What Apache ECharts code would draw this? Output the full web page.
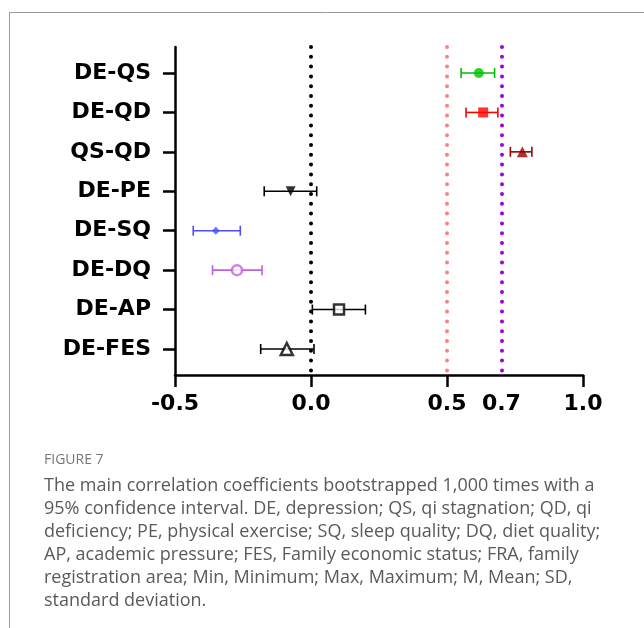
<!DOCTYPE html>
<html>
<head>
    <meta charset="UTF-8">
    <title>ECharts</title>
    <script src="https://cdn.jsdelivr.net/npm/echarts@6/dist/echarts.min.js"></script>
    <style>
        html, body { margin: 0; padding: 0; background: #fff; }
        #main { width: 644px; height: 628px; }
    </style>
</head>
<body>
    <div id="main"></div>
    <script type="text/javascript">
        // rows, top to bottom
        var categories = ['DE-QS', 'DE-QD', 'QS-QD', 'DE-PE', 'DE-SQ', 'DE-DQ', 'DE-AP', 'DE-FES'];
        // bootstrapped coefficient and 95% CI
        var estimate = [0.617, 0.633, 0.777, -0.075, -0.350, -0.272, 0.103, -0.089];
        var lower    = [0.552, 0.570, 0.733, -0.172, -0.433, -0.362, 0.005, -0.185];
        var upper    = [0.675, 0.687, 0.812, 0.021, -0.260, -0.180, 0.200, 0.011];
        // dotted reference lines
        var refLines = [0, 0.5, 0.7];
        var xTicks = [-0.5, 0, 0.5, 1.0];
        var xLabels = [-0.5, 0, 0.5, 0.7, 1.0];

        var colors  = ['#00c000', '#ff0000', '#990000', '#000000', '#4d4dff', '#c060e0', '#000000', '#000000'];
        var symbols = ['circle', 'rect', 'triangle', 'triangle', 'diamond', 'circle', 'rect', 'triangle'];
        var sizes   = [10, 10, 11, 10, 8, 10, 10, 12];
        var hollow  = [false, false, false, false, false, true, true, true];
        var refColors = ['#000000', '#ff8080', '#a000e0'];

        var rowIdx = categories.map(function (c, i) { return i; });

        var barData = rowIdx.map(function (i) { return [lower[i], upper[i], i]; });
        var pointData = rowIdx.map(function (i) {
            return {
                value: [estimate[i], i],
                symbol: symbols[i],
                symbolSize: sizes[i],
                symbolRotate: i === 3 ? 180 : 0,
                itemStyle: hollow[i]
                    ? { color: '#fff', borderColor: colors[i], borderWidth: 2.5 }
                    : { color: colors[i] }
            };
        });

        var myChart = echarts.init(document.getElementById('main'));

        var caption = [
            'The main correlation coefficients bootstrapped 1,000 times with a',
            '95% confidence interval. DE, depression; QS, qi stagnation; QD, qi',
            'deficiency; PE, physical exercise; SQ, sleep quality; DQ, diet quality;',
            'AP, academic pressure; FES, Family economic status; FRA, family',
            'registration area; Min, Minimum; Max, Maximum; M, Mean; SD,',
            'standard deviation.'
        ];
        var graphics = [
            { type: 'line', shape: { x1: 9, y1: 12.5, x2: 644, y2: 12.5 }, style: { stroke: '#999', lineWidth: 1 } },
            { type: 'line', shape: { x1: 9.5, y1: 12, x2: 9.5, y2: 628 }, style: { stroke: '#999', lineWidth: 1 } },
            { type: 'text', left: 44, top: 453, style: { text: 'FIGURE 7', font: '500 14px "Open Sans"', fill: '#777' } }
        ];
        caption.forEach(function (line, k) {
            graphics.push({
                type: 'text', left: 44, top: 477 + k * 23,
                style: { text: line, font: '18px "Open Sans"', fill: '#5a5a5a' }
            });
        });

        var labelFont = { color: '#000', fontSize: 22, fontWeight: 'bold', fontFamily: 'DejaVu Sans' };

        var option = {
            animation: false,
            grid: { left: 175, right: 61, top: 47, bottom: 253, containLabel: false },
            xAxis: {
                type: 'value', min: -0.5, max: 1.0,
                splitLine: { show: false },
                axisLine: { show: true, onZero: false, lineStyle: { color: '#000', width: 2.5 } },
                axisTick: { show: true, length: 12, customValues: xTicks, lineStyle: { color: '#000', width: 2.5 } },
                axisLabel: Object.assign({
                    customValues: xLabels, margin: 18,
                    formatter: function (v) { return v.toFixed(1); }
                }, labelFont)
            },
            yAxis: {
                type: 'value', min: -0.66, max: 7.66, inverse: true,
                splitLine: { show: false },
                axisLine: { show: true, onZero: false, lineStyle: { color: '#000', width: 2.5 } },
                axisTick: { show: true, length: 12, customValues: rowIdx, lineStyle: { color: '#000', width: 2.5 } },
                axisLabel: Object.assign({
                    customValues: rowIdx, margin: 24,
                    formatter: function (v) { return categories[Math.round(v)]; }
                }, labelFont)
            },
            graphic: graphics,
            series: [
                {
                    type: 'line', data: [], silent: true,
                    markLine: {
                        silent: true, symbol: ['none', 'none'], label: { show: false },
                        data: refLines.map(function (x, k) {
                            return { xAxis: x, lineStyle: { color: refColors[k], width: 4, type: [0, 9.8], cap: 'round' } };
                        })
                    }
                },
                {
                    type: 'custom',
                    encode: { x: [0, 1], y: 2 },
                    data: barData,
                    renderItem: function (params, api) {
                        var y = api.value(2);
                        var p1 = api.coord([api.value(0), y]);
                        var p2 = api.coord([api.value(1), y]);
                        var c = colors[params.dataIndex];
                        var st = { stroke: c, lineWidth: 1.6 };
                        var h = 5;
                        return {
                            type: 'group',
                            children: [
                                { type: 'line', shape: { x1: p1[0], y1: p1[1], x2: p2[0], y2: p2[1] }, style: st },
                                { type: 'line', shape: { x1: p1[0], y1: p1[1] - h, x2: p1[0], y2: p1[1] + h }, style: st },
                                { type: 'line', shape: { x1: p2[0], y1: p2[1] - h, x2: p2[0], y2: p2[1] + h }, style: st }
                            ]
                        };
                    },
                    z: 3
                },
                {
                    type: 'scatter',
                    data: pointData,
                    z: 4
                }
            ]
        };

        myChart.setOption(option);
    </script>
</body>
</html>
